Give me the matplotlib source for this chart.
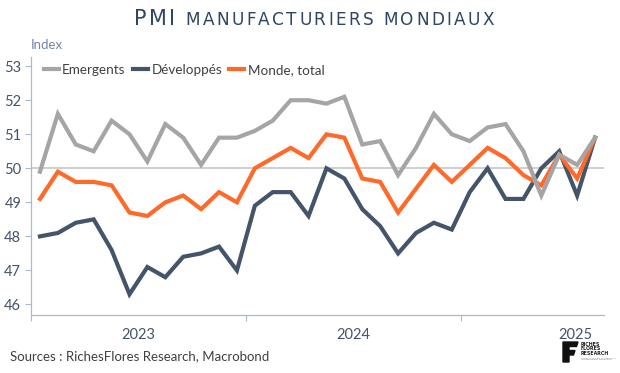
import matplotlib
matplotlib.use("Agg")
import matplotlib.pyplot as plt
from matplotlib.patches import Polygon
import numpy as np

# ---- data ----
years = ["2023", "2024", "2025"]
emergents = [49.9, 51.6, 50.7, 50.5, 51.4, 51.0, 50.2, 51.3, 50.9, 50.1, 50.9, 50.9,
             51.1, 51.4, 52.0, 52.0, 51.9, 52.1, 50.7, 50.8, 49.8, 50.6, 51.6, 51.0,
             50.8, 51.2, 51.3, 50.5, 49.2, 50.4, 50.1, 50.9]
developpes = [48.0, 48.1, 48.4, 48.5, 47.6, 46.3, 47.1, 46.8, 47.4, 47.5, 47.7, 47.0,
              48.9, 49.3, 49.3, 48.6, 50.0, 49.7, 48.8, 48.3, 47.5, 48.1, 48.4, 48.2,
              49.3, 50.0, 49.1, 49.1, 50.0, 50.5, 49.2, 50.9]
monde = [49.1, 49.9, 49.6, 49.6, 49.5, 48.7, 48.6, 49.0, 49.2, 48.8, 49.3, 49.0,
         50.0, 50.3, 50.6, 50.3, 51.0, 50.9, 49.7, 49.6, 48.7, 49.4, 50.1, 49.6,
         50.1, 50.6, 50.3, 49.8, 49.5, 50.4, 49.7, 50.9]
series_names = ["Emergents", "Développés", "Monde, total"]
yticks = [46, 47, 48, 49, 50, 51, 52, 53]

W, H = 620, 373
fig = plt.figure(figsize=(W / 100, H / 100), dpi=100)
FONT = ["Lato", "DejaVu Sans"]
plt.rcParams["font.family"] = FONT

def fx(px):
    return px / W

def fy(py):
    return 1 - py / H

ax = fig.add_axes([fx(31), fy(315), fx(604) - fx(31), fy(57) - fy(315)])

x = np.arange(len(emergents))
c_gray = "#A5A5A5"
c_blue = "#44546A"
c_orange = "#FF6A2A"
ax.axhline(50, color="#CFCFCF", lw=1.4, zorder=1)
l2, = ax.plot(x, developpes, color=c_blue, lw=3, zorder=3, label=series_names[1], solid_joinstyle="miter")
l3, = ax.plot(x, monde, color=c_orange, lw=3, zorder=4, label=series_names[2], solid_joinstyle="miter")
l1, = ax.plot(x, emergents, color=c_gray, lw=3, zorder=5, label=series_names[0], solid_joinstyle="miter")

ax.set_xlim(-0.5, len(x) - 0.5)
ax.set_ylim(45.69, 53.27)
ax.set_yticks(yticks)
ax.set_yticklabels([str(v) for v in yticks], fontsize=10.5, color="#44546A")
ax.tick_params(axis="y", length=4, width=0.8, color="#A9B9CF", pad=3)

year_bounds = [-0.5, 11.5, 23.5]
ax.set_xticks(year_bounds)
ax.set_xticklabels([])
ax.tick_params(axis="x", length=4, width=0.8, color="#A9B9CF")
year_label_x = [5.5, 17.5, 29.9]
for yl, xl in zip(years, year_label_x):
    ax.text(xl, -0.05, yl, transform=ax.get_xaxis_transform(), ha="center", va="top",
            fontsize=10.5, color="#44546A")

for s in ["top", "right"]:
    ax.spines[s].set_visible(False)
for s in ["left", "bottom"]:
    ax.spines[s].set_color("#A9B9CF")
    ax.spines[s].set_linewidth(0.9)

leg = ax.legend(handles=[l1, l2, l3], ncol=3, loc="center left",
                bbox_to_anchor=(fx(44), fy(70)), bbox_transform=fig.transFigure,
                frameon=False, fontsize=9.7, handlelength=1.1, handletextpad=0.25,
                columnspacing=0.55, borderaxespad=0, borderpad=0)
for t in leg.get_texts():
    t.set_color("#404040")

fig.text(fx(31), fy(45), "Index", fontsize=9.5, color="#6F87AA", ha="left", va="center")

# Title: "PMI" larger, rest in small caps, with letter tracking
title_col = "#2F4562"
fig.canvas.draw()
r = fig.canvas.get_renderer()
parts = [("PMI", 15), (" MANUFACTURIERS MONDIAUX", 12.2)]
track = 2.4
chars = []
for s, fs in parts:
    for ch in s:
        t = fig.text(0, fy(25), ch, fontsize=fs, color=title_col, va="baseline",
                     ha="left", family=["DejaVu Sans"])
        if ch == " ":
            w = fs * 100 / 72 * 0.32
        else:
            w = t.get_window_extent(r).width
        chars.append((t, w))
total = sum(w for _, w in chars) + track * (len(chars) - 1)
pos = 314 - total / 2
for t, w in chars:
    t.set_x(fx(pos))
    pos += w + track

fig.text(fx(10), fy(356), "Sources : RichesFlores Research, Macrobond", fontsize=9.5,
         color="#404040", ha="left", va="center")

# logo
F = [(563, 342), (578, 342), (576.5, 346.5), (569, 346.5), (569, 350.5), (575, 350.5),
     (573.5, 355), (569, 355), (569, 362), (563, 362)]
fig.add_artist(Polygon([(fx(a), fy(b)) for a, b in F], closed=True, color="#111111",
                       transform=fig.transFigure))
fig.text(fx(581), fy(349), "RICHES\nFLORES\nRESEARCH", fontsize=3.4, color="#222222",
         ha="left", va="center", linespacing=0.95, fontweight="bold", family=["DejaVu Sans"])
fig.text(fx(581), fy(359), "GLOBAL MACRO & THEMATIC\nINDEPENDENT RESEARCH", fontsize=1.7,
         color="#777777", ha="left", va="center", family=["DejaVu Sans"])

fig.savefig("out.png", dpi=100)
